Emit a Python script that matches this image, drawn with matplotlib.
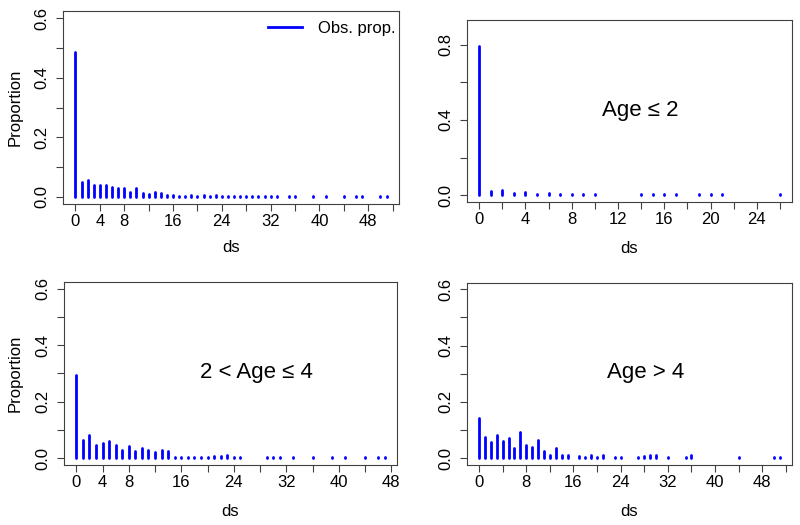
import numpy as np
import matplotlib
matplotlib.use('Agg')
import matplotlib.pyplot as plt

plt.rcParams['font.family'] = ['Liberation Sans', 'DejaVu Sans']
plt.rcParams['path.simplify'] = False

# all ages
ds_all = list(range(0, 34)) + [35, 36, 39, 41, 44, 46, 47, 50, 51]
prop_all = [0.486, 0.050, 0.057, 0.041, 0.039, 0.040, 0.032, 0.030, 0.029, 0.016,
            0.031, 0.014, 0.009, 0.017, 0.014, 0.005, 0.007, 0.004, 0.004, 0.005,
            0.004, 0.005, 0.004, 0.005, 0.003, 0.003, 0.003, 0.003, 0.003, 0.003,
            0.003, 0.003, 0.003, 0.003, 0.003, 0.003, 0.003, 0.003, 0.003, 0.003,
            0.003, 0.003, 0.003]

# age <= 2
ds_a2 = [0, 1, 2, 3, 4, 5, 6, 7, 8, 9, 10, 14, 15, 16, 17, 19, 20, 21, 26]
prop_a2 = [0.795, 0.021, 0.030, 0.012, 0.015, 0.008, 0.012, 0.006, 0.006, 0.006,
           0.009, 0.007, 0.006, 0.006, 0.008, 0.006, 0.006, 0.006, 0.006]

# 2 < age <= 4
ds_a4 = list(range(0, 26)) + [29, 30, 31, 33, 36, 39, 41, 44, 46, 47]
prop_a4 = [0.294, 0.063, 0.082, 0.048, 0.054, 0.061, 0.048, 0.030, 0.045, 0.024,
           0.036, 0.029, 0.021, 0.030, 0.024, 0.005, 0.005, 0.004, 0.005, 0.004,
           0.004, 0.009, 0.009, 0.013, 0.004, 0.004, 0.003, 0.003, 0.003, 0.003,
           0.003, 0.003, 0.003, 0.003, 0.006, 0.003]

# age > 4
ds_old = list(range(0, 16)) + [17, 18, 19, 20, 21, 23, 24, 27, 28, 29, 30, 32, 35, 36, 44, 50, 51]
prop_old = [0.142, 0.076, 0.059, 0.082, 0.060, 0.071, 0.035, 0.094, 0.048, 0.041,
            0.065, 0.024, 0.011, 0.035, 0.011, 0.011, 0.009, 0.004, 0.010, 0.004,
            0.010, 0.004, 0.004, 0.004, 0.009, 0.011, 0.011, 0.004, 0.004, 0.011,
            0.004, 0.004, 0.004]

BLUE = '#0000ff'
FRAME = '#404040'


def panel(ax, ds, prop, ymax, yticks, ylabels, xticks, xlabels, ylab=True):
    ax.vlines(ds, 0, prop, colors=BLUE, lw=2.0, capstyle='round')
    xmax = max(ds)
    ax.set_xlim(-0.04 * xmax, 1.04 * xmax)
    ax.set_ylim(-0.04 * ymax, 1.04 * ymax)
    ax.set_xticks(xticks)
    ax.set_xticklabels([str(t) if t in xlabels else '' for t in xticks])
    ax.set_yticks(yticks)
    ax.set_yticklabels(['%.1f' % t if round(t, 2) in ylabels else '' for t in yticks],
                       rotation=90, va='center')
    ax.tick_params(direction='out', length=5, width=0.8, color=FRAME, labelsize=12)
    ax.tick_params(axis='x', pad=2)
    ax.tick_params(axis='y', pad=5)
    for s in ax.spines.values():
        s.set_color(FRAME)
        s.set_linewidth(0.8)
    ax.set_xlabel('ds', fontsize=12, va='center')
    if ylab:
        ax.set_ylabel('Proportion', fontsize=12, va='center')


fig = plt.figure(figsize=(8, 5.25), dpi=100)

ax1 = fig.add_axes([0.0788, 0.6114, 0.42, 0.3676])
panel(ax1, ds_all, prop_all, 0.6, np.arange(0, 0.61, 0.1), [0.0, 0.2, 0.4, 0.6],
      list(range(0, 53, 4)), [0, 4, 8, 16, 24, 32, 40, 48])
ax1.xaxis.set_label_coords(0.5, -0.223)
ax1.yaxis.set_label_coords(-0.143, 0.5)
ax1.plot([], [], color=BLUE, lw=2.0, label='Obs. prop.')
ax1.legend(loc='upper right', bbox_to_anchor=(0.99, 0.95), frameon=False,
           fontsize=12, handlelength=2.0, handletextpad=1.0,
           borderpad=0, borderaxespad=0)

ax2 = fig.add_axes([0.5838, 0.6152, 0.40625, 0.3467])
panel(ax2, ds_a2, prop_a2, 0.895, np.arange(0, 0.81, 0.2), [0.0, 0.4, 0.8],
      list(range(0, 27, 2)), [0, 4, 8, 12, 16, 20, 24], ylab=False)
ax2.xaxis.set_label_coords(0.5, -0.253)
ax2.text(0.532, 0.505, 'Age \u2264 2', transform=ax2.transAxes,
         ha='center', va='center', fontsize=16)

ax3 = fig.add_axes([0.08, 0.1143, 0.41625, 0.3486])
panel(ax3, ds_a4, prop_a4, 0.6, np.arange(0, 0.61, 0.1), [0.0, 0.2, 0.4, 0.6],
      list(range(0, 49, 4)), [0, 4, 8, 16, 24, 32, 40, 48])
ax3.xaxis.set_label_coords(0.5, -0.255)
ax3.yaxis.set_label_coords(-0.147, 0.5)
ax3.text(0.579, 0.503, '2 < Age \u2264 4', transform=ax3.transAxes,
         ha='center', va='center', fontsize=16)

ax4 = fig.add_axes([0.5838, 0.1143, 0.40625, 0.3476])
panel(ax4, ds_old, prop_old, 0.6, np.arange(0, 0.61, 0.1), [0.0, 0.2, 0.4, 0.6],
      list(range(0, 53, 4)), [0, 8, 16, 24, 32, 40, 48], ylab=False)
ax4.xaxis.set_label_coords(0.5, -0.255)
ax4.text(0.548, 0.505, 'Age > 4', transform=ax4.transAxes,
         ha='center', va='center', fontsize=16)

fig.savefig('out.png', dpi=100)
